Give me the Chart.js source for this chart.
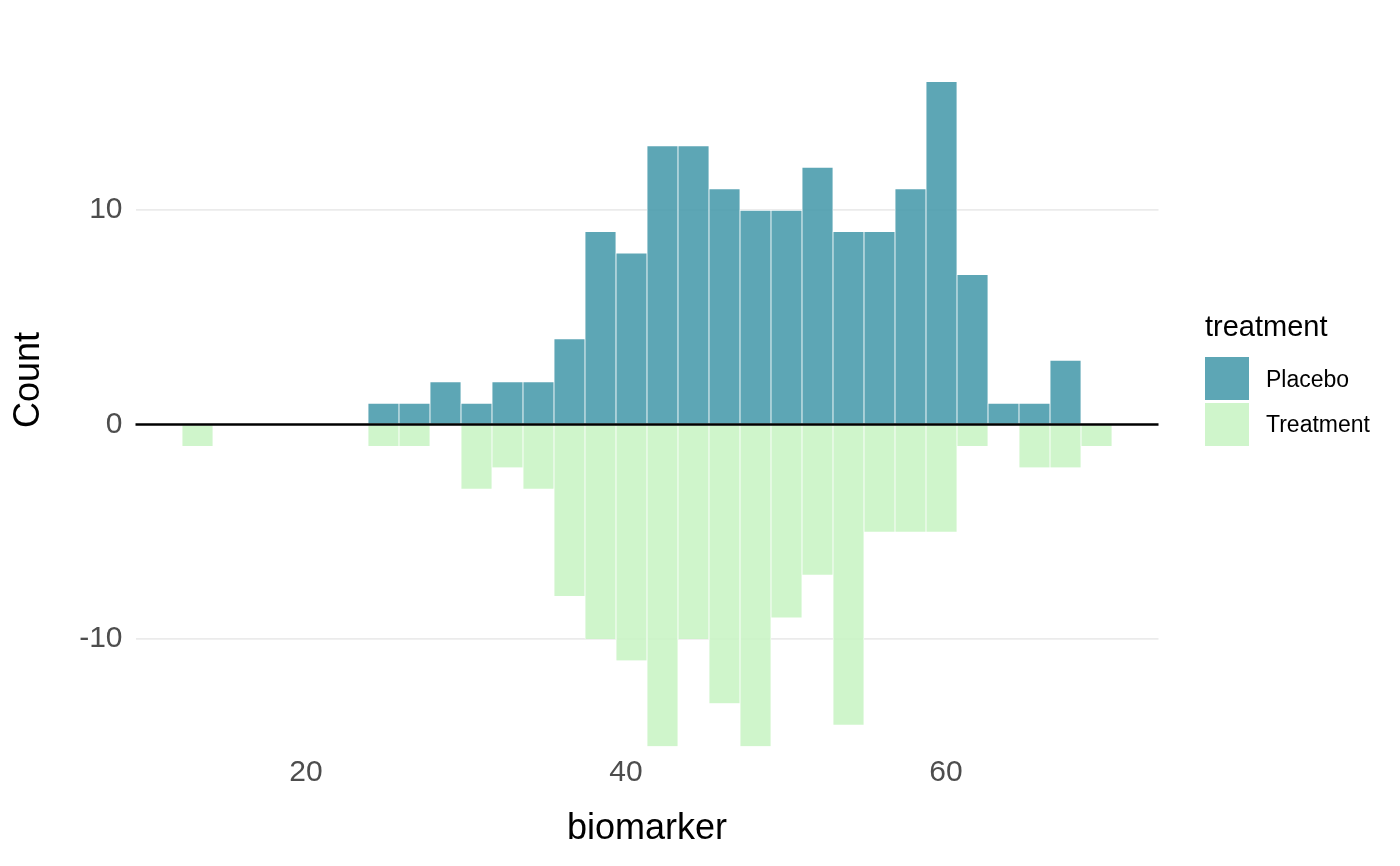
<!DOCTYPE html>
<html><head><meta charset="utf-8">
<script src="https://cdn.jsdelivr.net/npm/chart.js@4"></script>
<style>
html,body{margin:0;padding:0;background:#fff;}
#wrap{position:relative;width:1400px;height:866px;overflow:hidden;}
#c{position:absolute;left:0;top:0;}
.lg{position:absolute;font-family:"Liberation Sans",Arial,sans-serif;line-height:1;white-space:nowrap;color:#000;}
.key{position:absolute;left:1205px;width:44px;height:43px;}
</style></head><body>
<div id="wrap"><canvas id="c" width="1400" height="866"></canvas></div>
<script>
// ---- data ----
const binCenters = [13.219,15.156,17.094,19.031,20.969,22.906,24.844,26.781,28.719,30.656,
  32.594,34.531,36.469,38.406,40.344,42.281,44.219,46.156,48.094,50.031,
  51.969,53.906,55.844,57.781,59.719,61.656,63.594,65.531,67.469,69.406];
const placebo   = [0,0,0,0,0,0,1,1,2,1,2,2,4,9,8,13,13,11,10,10,12,9,9,11,16,7,1,1,3,0];
const treatment = [-1,0,0,0,0,0,-1,-1,0,-3,-2,-3,-8,-10,-11,-15,-10,-13,-15,-9,-7,-14,-5,-5,-5,-1,0,-2,-2,-1];
const seriesNames = ['Placebo','Treatment'];
const legendTitle = 'treatment';
const xTicks = [20,40,60];
const yTicks = [-10,0,10];
const xTitle = 'biomarker';
const yTitle = 'Count';

// ---- styles ----
const colors = ['rgba(75,156,173,0.9)','rgba(202,244,197,0.9)'];
const FONT = '"Liberation Sans", Arial, sans-serif';

const zeroLine = {
  id:'zeroLine',
  afterDatasetsDraw(chart){
    const {ctx, chartArea, scales:{y}} = chart;
    const py = y.getPixelForValue(0);
    ctx.save();
    ctx.strokeStyle = '#000';
    ctx.lineWidth = 2.3;
    ctx.beginPath();
    ctx.moveTo(chartArea.left, py);
    ctx.lineTo(chartArea.right, py);
    ctx.stroke();
    ctx.restore();
  }
};

const mk = (arr) => binCenters.map((x,i)=>({x:x, y:arr[i]}));

new Chart(document.getElementById('c'), {
  type:'bar',
  data:{
    datasets:[
      {label:seriesNames[0], data:mk(placebo), backgroundColor:colors[0]},
      {label:seriesNames[1], data:mk(treatment), backgroundColor:colors[1]}
    ]
  },
  options:{
    responsive:false,
    animation:false,
    devicePixelRatio:1,
    layout:{padding:{left:0,right:241.5,top:8,bottom:0}},
    datasets:{bar:{grouped:false,barPercentage:1,categoryPercentage:1,
      borderColor:'#ffffff',borderWidth:{top:1,left:0.75,right:0.75,bottom:0}}},
    plugins:{legend:{display:false},tooltip:{enabled:false}},
    scales:{
      x:{
        type:'linear', min:9.344, max:73.28, offset:false,
        afterBuildTicks(ax){ ax.ticks = xTicks.map(v=>({value:v})); },
        afterFit(ax){ ax.height = 114; ax.paddingLeft = 0; ax.paddingRight = 0; },
        grid:{display:false,drawTicks:false},
        border:{display:false},
        ticks:{padding:3,color:'#4D4D4D',font:{family:FONT,size:30},maxRotation:0,autoSkip:false,
          callback:(v)=>String(v)},
        title:{display:true,text:xTitle,color:'#000',font:{family:FONT,size:36},padding:{top:0,bottom:15}}
      },
      y:{
        type:'linear', min:-15.268, max:19.417,
        afterBuildTicks(ax){ ax.ticks = yTicks.map(v=>({value:v})); },
        afterFit(ax){ ax.width = 135.5; ax.paddingTop = 0; ax.paddingBottom = 0; },
        grid:{drawTicks:false,lineWidth:1.8,color:(c)=> (c.tick && c.tick.value===0) ? 'rgba(0,0,0,0)' : '#EBEBEB'},
        border:{display:false},
        ticks:{padding:13,color:'#4D4D4D',font:{family:FONT,size:30},autoSkip:false,
          callback:(v)=>String(v)},
        title:{display:true,text:yTitle,color:'#000',font:{family:FONT,size:36},padding:{top:7.4,bottom:0}}
      }
    }
  },
  plugins:[zeroLine]
});

// ---- legend (HTML text) ----
const wrap = document.getElementById('wrap');
function addText(txt, left, top, size){
  const d = document.createElement('div');
  d.className='lg'; d.textContent=txt;
  d.style.left=left+'px'; d.style.top=top+'px'; d.style.fontSize=size+'px';
  wrap.appendChild(d);
}
addText(legendTitle, 1205, 312, 29);
const keyTops = [357, 403];
const labelTops = [368, 413];
seriesNames.forEach((name,i)=>{
  const k = document.createElement('div');
  k.className='key'; k.style.top=keyTops[i]+'px'; k.style.background=colors[i];
  wrap.appendChild(k);
  addText(name, 1266, labelTops[i], 23);
});
</script>
</body></html>
